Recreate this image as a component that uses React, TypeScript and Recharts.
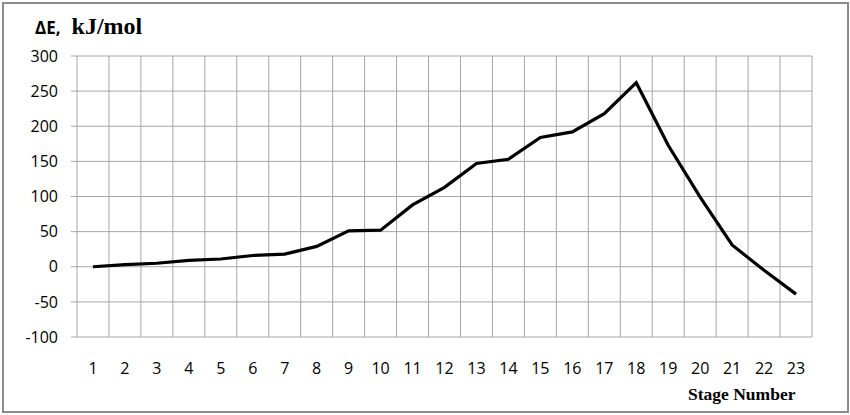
import React from 'react';
import { LineChart, Line, XAxis, YAxis, CartesianGrid } from 'recharts';

const stages = [1, 2, 3, 4, 5, 6, 7, 8, 9, 10, 11, 12, 13, 14, 15, 16, 17, 18, 19, 20, 21, 22, 23];
const energy = [0, 3, 5, 9, 11, 16, 18, 29, 51, 52, 88, 113, 147, 153, 184, 192, 218, 262, 173, 99, 31, -5, -39];
const yTicks = [-100, -50, 0, 50, 100, 150, 200, 250, 300];

const data = stages.map((s, i) => ({ stage: s, dE: energy[i] }));

const tickFont = { fontFamily: '"Open Sans", sans-serif', fontSize: 16, fill: '#000' };

export default function App() {
  return (
    <div style={{ position: 'absolute', left: 0, top: 0, width: 850, height: 415, background: '#fff' }}>
      <div style={{ position: 'absolute', left: 2, top: 2, width: 843, height: 407, border: '2px solid #8c8c8c' }} />
      <LineChart width={850} height={415} data={data} margin={{ top: 56, right: 38, bottom: 0, left: 0 }}>
        <CartesianGrid
          stroke="#a6a6a6"
          strokeWidth={1}
          verticalCoordinatesGenerator={({ offset }: any) =>
            Array.from({ length: stages.length + 1 }, (_, i) => offset.left + (i * offset.width) / stages.length)
          }
        />
        <XAxis
          dataKey="stage"
          type="number"
          domain={[0.5, stages.length + 0.5]}
          ticks={stages}
          interval={0}
          axisLine={false}
          tickLine={false}
          tickSize={0}
          tickMargin={26}
          height={78}
          tick={tickFont}
        />
        <YAxis
          domain={[-100, 300]}
          ticks={yTicks}
          interval={0}
          width={77}
          axisLine={false}
          tickLine={{ stroke: '#a6a6a6' }}
          tickSize={6}
          tickMargin={13}
          tick={tickFont}
        />
        <Line type="linear" dataKey="dE" stroke="#000" strokeWidth={3.2} dot={false} isAnimationActive={false} />
      </LineChart>
      <div style={{ position: 'absolute', left: 35, top: 13, whiteSpace: 'nowrap', color: '#000' }}>
        <span style={{ fontFamily: '"Open Sans", sans-serif', fontWeight: 700, fontSize: 17 }}>ΔE,</span>
        <span style={{ fontFamily: '"Liberation Serif", serif', fontWeight: 700, fontSize: 24, marginLeft: 11 }}>kJ/mol</span>
      </div>
      <div style={{ position: 'absolute', left: 688, top: 384, whiteSpace: 'nowrap', fontFamily: '"Liberation Serif", serif', fontWeight: 700, fontSize: 17.5, color: '#000' }}>
        Stage Number
      </div>
    </div>
  );
}
